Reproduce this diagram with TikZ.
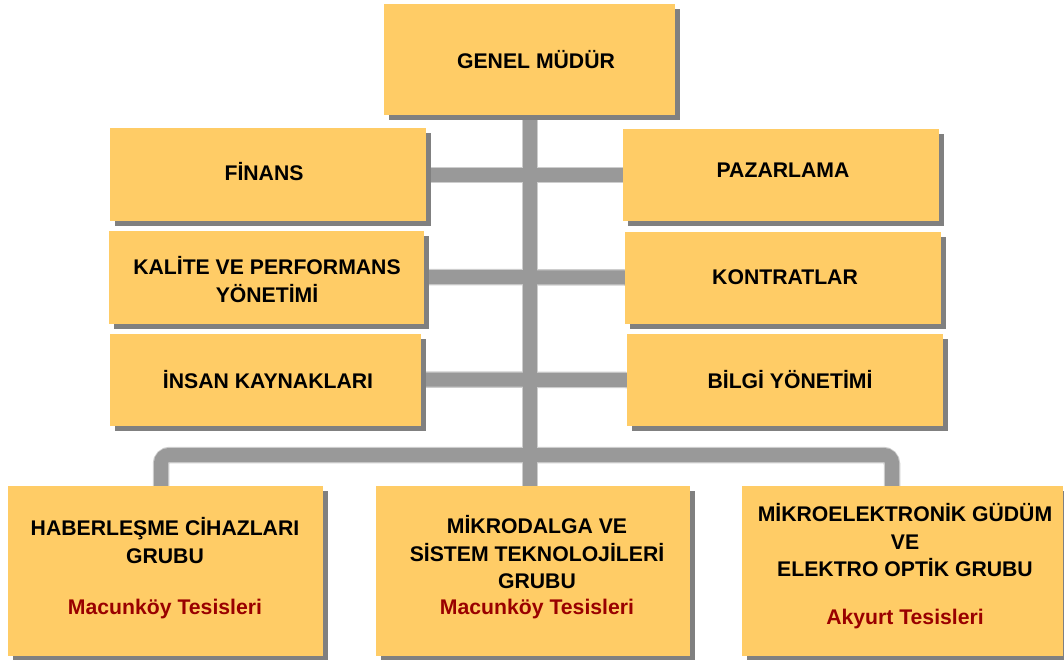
\documentclass[tikz,border=0pt]{standalone}
\usepackage{fontspec}
\setmainfont{Liberation Sans}
\usetikzlibrary{shadows,backgrounds}
\definecolor{boxfill}{RGB}{255,204,102}
\definecolor{shade}{RGB}{128,128,128}
\definecolor{wire}{RGB}{153,153,153}
\definecolor{wireedge}{RGB}{205,205,205}
\definecolor{site}{RGB}{153,0,0}
\tikzset{
  unit/.style={fill=boxfill, draw=none, inner sep=0pt,
    drop shadow={shadow xshift=5pt, shadow yshift=-5pt, fill=shade, opacity=1}},
  caption/.style={inner sep=0pt, align=center, text=black,
    font=\fontsize{21.2}{27.5}\selectfont\bfseries},
  sitename/.style={caption, text=site},
  wireback/.style={draw=wireedge, line width=16.5pt, rounded corners=9pt},
  wirefront/.style={draw=wire, line width=14pt, rounded corners=8pt},
}
\begin{document}
\begin{tikzpicture}[x=1pt, y=-1pt]
\useasboundingbox (0,0) rectangle (1064,660);

% units
\node[unit, minimum width=291pt, minimum height=111pt] (gm)  at (529.5,59.5) {};
\node[unit, minimum width=316pt, minimum height=93pt]  (fin) at (268,175) {};
\node[unit, minimum width=316pt, minimum height=92pt]  (paz) at (781,175) {};
\node[unit, minimum width=315pt, minimum height=93pt]  (kal) at (266.5,277) {};
\node[unit, minimum width=316pt, minimum height=92pt]  (kon) at (783,277.5) {};
\node[unit, minimum width=311pt, minimum height=92pt]  (ins) at (265.5,379.5) {};
\node[unit, minimum width=316pt, minimum height=92pt]  (bil) at (785,380) {};
\node[unit, minimum width=315pt, minimum height=170pt] (hab) at (165.5,571) {};
\node[unit, minimum width=314pt, minimum height=170pt] (mik) at (533,571) {};
\node[unit, minimum width=321pt, minimum height=170pt] (mel) at (902.5,571) {};

% bus corners
\coordinate (busL) at (161,455);
\coordinate (busR) at (892,455);

% connectors behind the units
\begin{pgfonlayer}{background}
  \foreach \s in {wireback, wirefront} {
    \draw[\s] (gm.south -| 530,0) -- (mik.north -| 530,0);
    \draw[\s] (fin.east) -- (paz.west);
    \draw[\s] (kal.east) -- (kon.west);
    \draw[\s] (ins.east) -- (bil.west);
    \draw[\s] (hab.north -| busL) -- (busL) -- (busR) -- (mel.north -| busR);
  }
\end{pgfonlayer}

% captions
\node[caption] (tgm)  at (536,60)  {GENEL MÜDÜR};
\node[caption] (tfin) at (264,172) {FİNANS};
\node[caption] (tpaz) at (783,170) {PAZARLAMA};
\node[caption] (tkal) at (267,279.5) {KALİTE VE PERFORMANS\\YÖNETİMİ};
\node[caption] (tkon) at (785,277) {KONTRATLAR};
\node[caption] (tins) at (268,380) {İNSAN KAYNAKLARI};
\node[caption] (tbil) at (790,380) {BİLGİ YÖNETİMİ};

\node[caption] (thab) at (165,540.5) {HABERLEŞME CİHAZLARI\\GRUBU};
\node[sitename] (shab) at (165,609) {Macunköy Tesisleri};
\node[caption] (tmik) at (537,552.5) {MİKRODALGA VE\\SİSTEM TEKNOLOJİLERİ\\GRUBU};
\node[sitename] (smik) at (537,609) {Macunköy Tesisleri};
\node[caption] (tmel) at (905,540.5) {MİKROELEKTRONİK GÜDÜM\\VE\\ELEKTRO OPTİK GRUBU};
\node[sitename] (smel) at (905,619) {Akyurt Tesisleri};
\end{tikzpicture}
\end{document}
